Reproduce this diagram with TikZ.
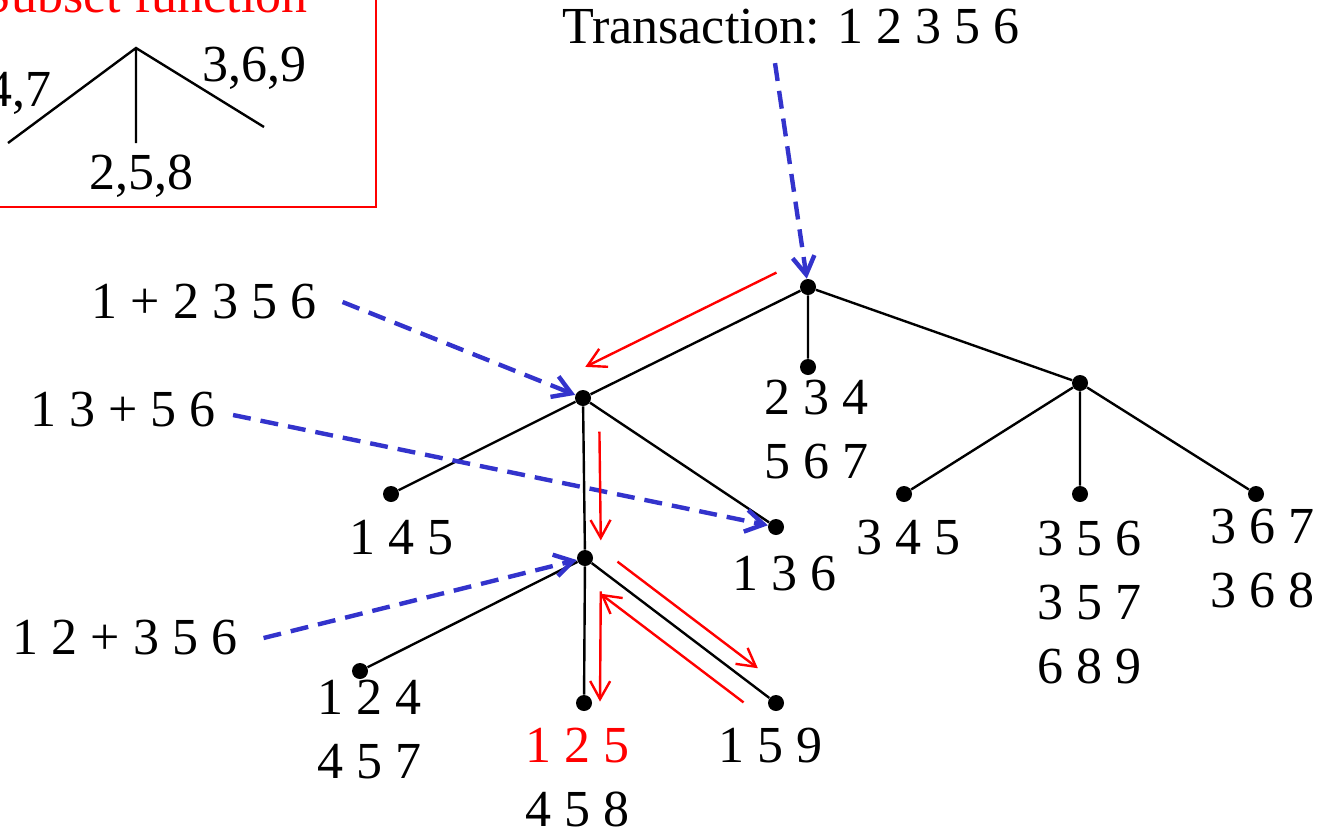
\documentclass[tikz,border=0pt]{standalone}
\usepackage{fontspec}
\setmainfont{Liberation Serif}
\usetikzlibrary{arrows.meta, calc}
\definecolor{probeblue}{RGB}{51,51,204}

\begin{document}
\begin{tikzpicture}[
  x=0.5pt, y=-0.5pt,
  every node/.style={font=\fontsize{26}{32}\selectfont, inner sep=0pt, align=center},
  dot/.style={circle, fill, minimum size=8pt},
  edge/.style={line width=1.2pt},
  walk/.style={red, line width=1.2pt, -{Straight Barb[length=9pt, width=10pt]}},
  probe/.style={probeblue, line width=2.2pt, dash pattern=on 9pt off 5pt, -{Straight Barb[length=9pt, width=11pt]}}
]
\path[use as bounding box, clip] (0,0) rectangle (1326,836);

% hash function box
\draw[red, line width=1.2pt] (-20,-20) rectangle (376,207);
\node[red, anchor=base east] (title) at (308,12) {Subset function};
\coordinate (hf) at (136,48);
\coordinate (h1) at (8,143);
\coordinate (h2) at (136,143);
\coordinate (h3) at (264,127);
\draw[edge] (h1) -- (hf) -- (h3) (hf) -- (h2);
\node[anchor=north east] (k147) at (52,72) {1,4,7};
\node[anchor=north west] (k369) at (202,47) {3,6,9};
\node[anchor=north] (k258) at (141,155) {2,5,8};

% hash tree
\node[dot] (root) at (808,287) {};
\node[dot] (nl) at (583,398) {};
\node[dot] (nr) at (1080,383) {};
\node[dot] (nlm) at (585,558) {};
\node[dot] (n234) at (808,367) {};
\node[dot] (n145) at (391,494) {};
\node[dot] (n136) at (776,527) {};
\node[dot] (n124) at (360,671) {};
\node[dot] (n125) at (584,703) {};
\node[dot] (n159) at (776,703) {};
\node[dot] (n345) at (904,494) {};
\node[dot] (n356) at (1080,494) {};
\node[dot] (n367) at (1256,494) {};

\draw[edge] (root) -- (nl) (root) -- (n234) (root) -- (nr)
  (nl) -- (n145) (nl) -- (nlm) (nl) -- (n136)
  (nlm) -- (n124) (nlm) -- (n125) (nlm) -- (n159)
  (nr) -- (n345) (nr) -- (n356) (nr) -- (n367);

% leaf contents
\node[anchor=north] (c234) at (816,380) {2 3 4\\5 6 7};
\node[anchor=north] (c145) at (401,520) {1 4 5};
\node[anchor=north] (c136) at (784,556) {1 3 6};
\node[anchor=north] (c345) at (908,520) {3 4 5};
\node[anchor=north] (c356) at (1089,521) {3 5 6\\3 5 7\\6 8 9};
\node[anchor=north] (c367) at (1262,509) {3 6 7\\3 6 8};
\node[anchor=north] (c124) at (369,680) {1 2 4\\4 5 7};
\node[anchor=north] (c125) at (577,728) {\textcolor{red}{1 2 5}\\4 5 8};
\node[anchor=north] (c159) at (770,728) {1 5 9};

% transaction and its splits
\node[anchor=base] (tx) at (791,43) {Transaction: 1 2 3 5 6};
\node (q1) at (204,302) {1 + 2 3 5 6};
\node (q2) at (123,410) {1 3 + 5 6};
\node (q3) at (125,638) {1 2 + 3 5 6};

\draw[probe] ([xshift=-8pt,yshift=-9.5pt]tx.south) -- (root);
\draw[probe] ([xshift=13pt]q1.east) -- (nl);
\draw[probe] ([xshift=8.5pt,yshift=-2.5pt]q2.east) -- (n136);
\draw[probe] ([xshift=13pt]q3.east) -- (nlm);

% traversal
\draw[walk] ($(root)!.14!(nl)+(0,-30)$) -- ($(root)!.99!(nl)+(0,-30)$);
\draw[walk] ($(nl)!.21!(nlm)+(16,0)$) -- ($(nl)!.89!(nlm)+(16,0)$);
\draw[walk] ($(nlm)!.17!(n159)+(0,-21)$) -- ($(nlm)!.905!(n159)+(0,-21)$);
\draw[walk] ($(nlm)!.83!(n159)+(0,24)$) -- ($(nlm)!.08!(n159)+(0,24)$);
\draw[walk] ($(nlm)!.23!(n125)+(16,0)$) -- ($(nlm)!.99!(n125)+(16,0)$);
\end{tikzpicture}
\end{document}
